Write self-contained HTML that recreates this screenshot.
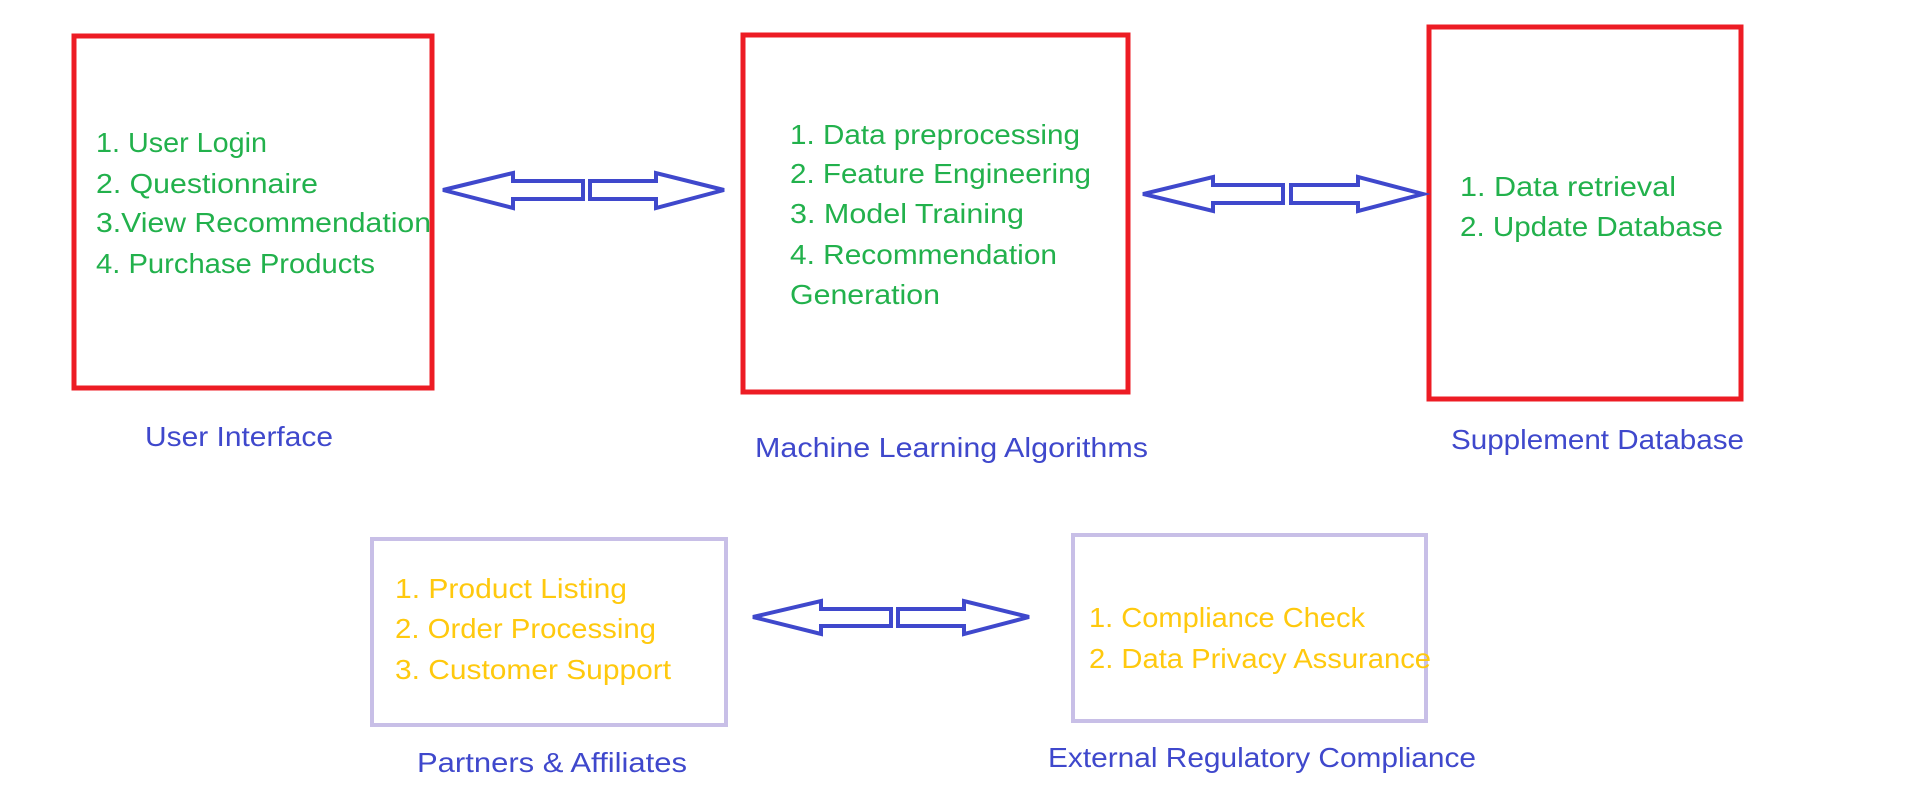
<!DOCTYPE html>
<html><head><meta charset="utf-8"><style>html,body{margin:0;padding:0;background:#fff}svg{display:block}</style></head>
<body>
<svg width="1914" height="802" viewBox="0 0 1914 802" xmlns="http://www.w3.org/2000/svg">
<g fill="none" stroke="#ed1c24" stroke-width="5">
<rect x="74" y="36" width="358" height="352"/>
<rect x="743" y="35" width="385" height="357"/>
<rect x="1429" y="27" width="312" height="372"/>
</g>
<g fill="none" stroke="#c8bfe7" stroke-width="4">
<rect x="372" y="539" width="354" height="186"/>
<rect x="1073" y="535" width="353" height="186"/>
</g>
<g fill="#fff" stroke="#3f48cc" stroke-width="4" stroke-linejoin="miter">
<polygon points="443,190 513,173 513,181 583,181 583,199 513,199 513,208"/>
<polygon points="724,190 656,173 656,181 590,181 590,199 656,199 656,208"/>
<polygon points="1143,194 1213,177 1213,185 1283,185 1283,203 1213,203 1213,211"/>
<polygon points="1423,194 1358,177 1358,185 1291,185 1291,203 1358,203 1358,211"/>
<polygon points="753,617 821,601 821,609 891,609 891,626 821,626 821,634"/>
<polygon points="1029,617 964,601 964,609 898,609 898,626 964,626 964,634"/>
</g>
<g font-family="Liberation Sans, sans-serif" font-size="28" fill="#22b14c">
<text x="96" y="152" textLength="171" lengthAdjust="spacingAndGlyphs">1. User Login</text>
<text x="96" y="193" textLength="222" lengthAdjust="spacingAndGlyphs">2. Questionnaire</text>
<text x="96" y="232" textLength="335" lengthAdjust="spacingAndGlyphs">3.View Recommendation</text>
<text x="96" y="273" textLength="279" lengthAdjust="spacingAndGlyphs">4. Purchase Products</text>
<text x="790" y="144" textLength="290" lengthAdjust="spacingAndGlyphs">1. Data preprocessing</text>
<text x="790" y="183" textLength="301" lengthAdjust="spacingAndGlyphs">2. Feature Engineering</text>
<text x="790" y="223" textLength="234" lengthAdjust="spacingAndGlyphs">3. Model Training</text>
<text x="790" y="264" textLength="267" lengthAdjust="spacingAndGlyphs">4. Recommendation</text>
<text x="790" y="304" textLength="150" lengthAdjust="spacingAndGlyphs">Generation</text>
<text x="1460" y="196" textLength="216" lengthAdjust="spacingAndGlyphs">1. Data retrieval</text>
<text x="1460" y="236" textLength="263" lengthAdjust="spacingAndGlyphs">2. Update Database</text>
</g>
<g font-family="Liberation Sans, sans-serif" font-size="28" fill="#ffc90e">
<text x="395" y="598" textLength="232" lengthAdjust="spacingAndGlyphs">1. Product Listing</text>
<text x="395" y="638" textLength="261" lengthAdjust="spacingAndGlyphs">2. Order Processing</text>
<text x="395" y="679" textLength="276" lengthAdjust="spacingAndGlyphs">3. Customer Support</text>
<text x="1089" y="627" textLength="276" lengthAdjust="spacingAndGlyphs">1. Compliance Check</text>
<text x="1089" y="668" textLength="342" lengthAdjust="spacingAndGlyphs">2. Data Privacy Assurance</text>
</g>
<g font-family="Liberation Sans, sans-serif" font-size="28" fill="#3f48cc">
<text x="145" y="446" textLength="188" lengthAdjust="spacingAndGlyphs">User Interface</text>
<text x="755" y="457" textLength="393" lengthAdjust="spacingAndGlyphs">Machine Learning Algorithms</text>
<text x="1451" y="449" textLength="293" lengthAdjust="spacingAndGlyphs">Supplement Database</text>
<text x="417" y="772" textLength="270" lengthAdjust="spacingAndGlyphs">Partners &amp; Affiliates</text>
<text x="1048" y="767" textLength="428" lengthAdjust="spacingAndGlyphs">External Regulatory Compliance</text>
</g>
</svg>
</body></html>
